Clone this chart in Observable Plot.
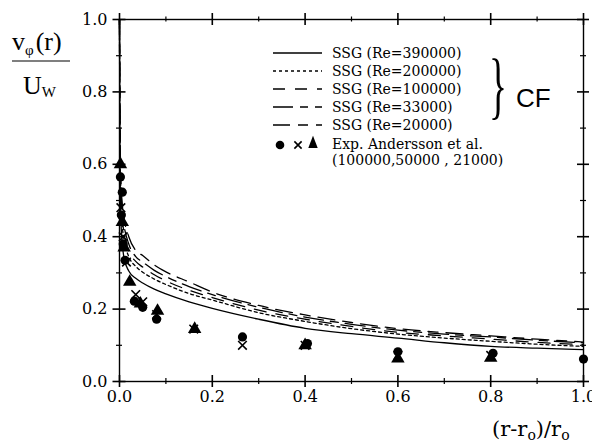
<!DOCTYPE html>
<html>
<head>
<meta charset="utf-8">
<script src="https://cdn.jsdelivr.net/npm/d3@7"></script>
<script src="https://cdn.jsdelivr.net/npm/@observablehq/plot@0.6"></script>
<style>
  body { margin: 0; background: #fff; }
  #chart { width: 592px; height: 443px; }
  #chart svg { display: block; }
</style>
</head>
<body>
<div id="chart"></div>
<script>
// Dimensionless gap position (r - r0)/r0 at which the SSG profiles are given
const gapPosition = [0, 0.001, 0.003, 0.006, 0.01, 0.02, 0.035, 0.05, 0.075, 0.1, 0.15, 0.2, 0.3, 0.4, 0.5, 0.6, 0.7, 0.8, 0.9, 1.0];

// SSG model, tangential velocity v_phi / U_W
const ssgRe390000 = [1.0, 0.62, 0.45, 0.38, 0.34, 0.305, 0.285, 0.272, 0.255, 0.242, 0.22, 0.202, 0.172, 0.147, 0.132, 0.12, 0.107, 0.097, 0.092, 0.088];
const ssgRe200000 = [1.0, 0.66, 0.50, 0.43, 0.39, 0.345, 0.318, 0.302, 0.283, 0.268, 0.243, 0.225, 0.19, 0.166, 0.146, 0.131, 0.12, 0.111, 0.103, 0.097];
const ssgRe100000 = [1.0, 0.68, 0.52, 0.45, 0.41, 0.36, 0.332, 0.316, 0.295, 0.278, 0.252, 0.232, 0.197, 0.172, 0.152, 0.136, 0.126, 0.117, 0.108, 0.102];
const ssgRe33000  = [1.0, 0.70, 0.54, 0.47, 0.43, 0.38, 0.345, 0.33, 0.307, 0.29, 0.262, 0.24, 0.205, 0.178, 0.158, 0.142, 0.131, 0.123, 0.114, 0.107];
const ssgRe20000  = [1.0, 0.72, 0.56, 0.49, 0.45, 0.40, 0.362, 0.348, 0.322, 0.303, 0.275, 0.247, 0.21, 0.184, 0.163, 0.146, 0.135, 0.126, 0.117, 0.109];

// Measurements, Andersson et al. : [ (r-r0)/r0, v_phi/U_W ]
const expRe100000 = [[0.002, 0.565], [0.006, 0.523], [0.004, 0.46], [0.008, 0.38], [0.012, 0.335], [0.032, 0.222], [0.05, 0.205], [0.08, 0.172], [0.265, 0.123], [0.405, 0.105], [0.6, 0.082], [0.805, 0.078], [1.0, 0.062]];
const expRe50000  = [[0.003, 0.48], [0.008, 0.40], [0.015, 0.33], [0.035, 0.24], [0.05, 0.22], [0.08, 0.185], [0.16, 0.145], [0.265, 0.1], [0.4, 0.1], [0.6, 0.072], [0.8, 0.072]];
const expRe21000  = [[0.002, 0.6], [0.006, 0.44], [0.01, 0.37], [0.022, 0.275], [0.045, 0.215], [0.082, 0.195], [0.162, 0.145], [0.4, 0.1], [0.6, 0.063], [0.8, 0.065]];

// Tick values
const majorTicks = [0, 0.2, 0.4, 0.6, 0.8, 1.0];
const minorTicks = [0.1, 0.3, 0.5, 0.7, 0.9];

// Legend texts
const ssgLabels = ["SSG (Re=390000)", "SSG (Re=200000)", "SSG (Re=100000)", "SSG (Re=33000)", "SSG (Re=20000)"];
const expLabels = ["Exp. Andersson et al.", "(100000,50000 , 21000)"];
const groupLabel = "CF";

const ssgSeries = [ssgRe390000, ssgRe200000, ssgRe100000, ssgRe33000, ssgRe20000];
const dashes = [null, "3,3", "12,10", "20,7,8,7", "17,8,10,8"];

const profiles = ssgSeries.map((vals, i) =>
  gapPosition.map((x, j) => ({x, v: vals[j], series: i})));

const toRows = arr => arr.map(([x, v]) => ({x, v}));

const fmt = d3.format(".1f");
const tickFont = "DejaVu Serif";

const W = 592, H = 443;
const M = {left: 119, right: 9, top: 19, bottom: 62};
const innerW = W - M.left - M.right;
const innerH = H - M.top - M.bottom;

// short tick segments that cross each side of the frame
const crossY = (ticks, len, side, sw) => Plot.tickY(ticks, {
  y: d => d, stroke: "#000", strokeWidth: sw,
  ...(side === "left"
    ? {insetRight: innerW - len, dx: -len / 2}
    : {insetLeft: innerW - len, dx: len / 2})
});
const crossX = (ticks, len, side, sw) => Plot.tickX(ticks, {
  x: d => d, stroke: "#000", strokeWidth: sw,
  ...(side === "bottom"
    ? {insetTop: innerH - len, dy: len / 2}
    : {insetBottom: innerH - len, dy: -len / 2})
});

const plot = Plot.plot({
  width: W,
  height: H,
  marginLeft: M.left,
  marginRight: M.right,
  marginTop: M.top,
  marginBottom: M.bottom,
  x: {domain: [0, 1], label: null},
  y: {domain: [0, 1], label: null},
  style: {background: "#fff", color: "#000", fontFamily: tickFont, fontSize: "16px"},
  marks: [
    Plot.frame({stroke: "#000", strokeWidth: 1.4}),
    // tick labels
    Plot.axisY(majorTicks, {anchor: "left", tickSize: 7, tickPadding: 5, stroke: "none", tickFormat: fmt, label: null, fontSize: 16}),
    Plot.axisX(majorTicks, {anchor: "bottom", tickSize: 6, tickPadding: 3, stroke: "none", tickFormat: fmt, label: null, fontSize: 16}),
    // tick marks on all four sides
    crossY(majorTicks, 13, "left", 1.6),
    crossY(minorTicks, 6, "left", 1.2),
    crossY(majorTicks, 12, "right", 1.6),
    crossY(minorTicks, 6, "right", 1.2),
    crossX(majorTicks, 12, "bottom", 1.6),
    crossX(minorTicks, 6, "bottom", 1.2),
    crossX(majorTicks, 12, "top", 1.6),
    crossX(minorTicks, 5, "top", 1.2),
    // SSG profiles
    ...profiles.map((rows, i) => Plot.line(rows, {
      x: "x", y: "v", stroke: "#000", strokeWidth: 1.3,
      strokeDasharray: dashes[i], curve: "monotone-x"
    })),
    // measurements
    Plot.dot(toRows(expRe100000), {x: "x", y: "v", symbol: "circle", r: 4.6, fill: "#000"}),
    Plot.dot(toRows(expRe50000), {x: "x", y: "v", symbol: "times", r: 4, stroke: "#000", strokeWidth: 1.6}),
    Plot.dot(toRows(expRe21000), {x: "x", y: "v", symbol: "triangle", r: 5, fill: "#000"})
  ]
});

document.getElementById("chart").appendChild(plot);

// annotations drawn into the same svg
const svg = d3.select(plot);
const ann = svg.append("g").attr("fill", "#000").attr("text-anchor", "start");

// legend
const legend = ann.append("g").attr("font-family", tickFont).attr("font-size", 14);
const rowBase = [58, 76, 94, 112, 130];
ssgLabels.forEach((t, i) => {
  legend.append("line")
    .attr("x1", 273).attr("x2", 322)
    .attr("y1", rowBase[i] - 5).attr("y2", rowBase[i] - 5)
    .attr("stroke", "#000").attr("stroke-width", 1.3)
    .attr("stroke-dasharray", dashes[i]);
  legend.append("text").attr("x", 332).attr("y", rowBase[i]).text(t);
});
legend.append("circle").attr("cx", 280).attr("cy", 145).attr("r", 4.3);
legend.append("path").attr("d", d3.symbol(d3.symbolTimes, 36)()).attr("transform", "translate(298,145)")
  .attr("stroke", "#000").attr("stroke-width", 1.6).attr("fill", "none");
legend.append("path").attr("d", d3.symbol(d3.symbolTriangle, 60)()).attr("transform", "translate(313,144) scale(0.8,1.2)");
legend.append("text").attr("x", 332).attr("y", 149).text(expLabels[0]);
legend.append("text").attr("x", 332).attr("y", 165).text(expLabels[1]);

// brace and group label
ann.append("text")
  .attr("font-family", "Liberation Serif").attr("font-size", 44)
  .attr("transform", "translate(489,110) scale(0.85,1.7)")
  .text("}");
ann.append("text")
  .attr("x", 516).attr("y", 107)
  .attr("font-family", "Liberation Sans").attr("font-size", 26)
  .text(groupLabel);

// y-axis title as a fraction v_phi(r) / U_W
const yt = ann.append("g").attr("font-family", "Liberation Serif");
const num = yt.append("text").attr("x", 12).attr("y", 50).attr("font-size", 26);
num.append("tspan").text("v");
num.append("tspan").attr("font-size", 15).attr("dy", 5).text("φ");
num.append("tspan").attr("dy", -5).attr("dx", 2).text("(r)");
yt.append("line").attr("x1", 12).attr("x2", 70).attr("y1", 61).attr("y2", 61)
  .attr("stroke", "#000").attr("stroke-width", 1.2);
const den = yt.append("text").attr("x", 23).attr("y", 94).attr("font-size", 26);
den.append("tspan").text("U");
den.append("tspan").attr("font-size", 15).attr("dy", 3).text("W");

// x-axis title (r - r_o)/r_o
const xt = ann.append("text").attr("x", 492).attr("y", 436)
  .attr("font-family", tickFont).attr("font-size", 21);
xt.append("tspan").text("(r-r");
xt.append("tspan").attr("font-size", 14).attr("dy", 4).text("o");
xt.append("tspan").attr("dy", -4).text(")/r");
xt.append("tspan").attr("font-size", 14).attr("dy", 4).text("o");
</script>
</body>
</html>
